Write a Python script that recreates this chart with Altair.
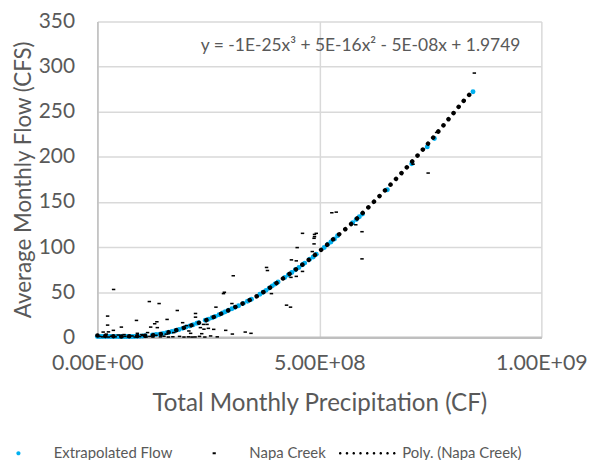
import altair as alt
import pandas as pd

# ---------------- data ----------------
# Napa Creek observations: Total Monthly Precipitation (CF), Average Monthly Flow (CFS)
napa_x = [0.05e8, 0.12e8, 0.18e8, 0.25e8, 0.32e8, 0.40e8, 0.47e8, 0.55e8, 0.62e8, 0.70e8,
          0.78e8, 0.85e8, 0.95e8, 1.02e8, 1.10e8, 1.18e8, 1.25e8, 1.32e8, 1.42e8, 1.50e8,
          1.60e8, 1.70e8, 1.85e8, 1.95e8, 2.05e8, 2.13e8, 2.20e8, 2.30e8, 2.42e8, 2.55e8,
          2.70e8, 0.13e8, 0.25e8, 0.36e8, 0.90e8, 1.13e8, 1.72e8, 0.60e8, 0.20e8, 1.00e8,
          1.55e8, 2.35e8, 2.06e8, 2.10e8, 0.365e8, 0.23e8, 0.23e8, 0.54e8, 0.88e8, 1.17e8,
          1.39e8, 1.29e8, 1.34e8, 1.20e8, 1.35e8, 1.57e8, 1.80e8, 1.92e8, 2.01e8, 2.21e8,
          2.21e8, 2.67e8, 2.84e8, 2.86e8, 3.06e8, 3.03e8, 2.47e8, 2.32e8, 2.40e8, 2.50e8,
          2.62e8, 2.89e8, 3.04e8, 3.33e8, 3.46e8, 3.81e8, 3.83e8, 3.92e8, 4.26e8, 4.35e8,
          4.37e8, 4.48e8, 4.50e8, 4.62e8, 4.89e8, 4.93e8, 4.88e8, 4.88e8, 4.89e8, 4.36e8,
          4.48e8, 4.62e8, 5.28e8, 5.38e8, 4.84e8, 5.82e8, 5.96e8, 5.96e8, 7.11e8, 7.45e8,
          7.64e8, 8.49e8, 2.39e8]
napa_y = [1.0, 0.5, 2.0, 0.3, 1.2, 0.5, 2.5, 0.3, 1.0, 0.4,
          1.5, 0.3, 0.8, 2.0, 0.4, 1.0, 0.3, 2.2, 0.5, 1.2,
          0.3, 0.6, 1.0, 0.3, 0.5, 0.3, 0.4, 1.0, 0.3, 1.5,
          0.5, 5.8, 6.0, 7.7, 4.4, 5.2, 5.2, 3.0, 3.5, 3.0,
          3.5, 4.0, 7.0, 4.4, 53.0, 23.5, 13.5, 11.3, 18.7, 39.6,
          37.4, 15.0, 17.2, 11.3, 10.7, 19.8, 29.7, 16.2, 12.9, 26.4,
          22.3, 33.4, 48.4, 49.9, 68.2, 37.4, 14.3, 10.7, 9.0, 9.9,
          8.8, 7.7, 3.6, 5.8, 4.4, 77.4, 74.0, 48.4, 35.6, 33.4,
          85.8, 84.7, 99.4, 115.2, 114.0, 115.2, 103.5, 109.7, 111.5, 66.4,
          67.5, 73.0, 138.0, 138.7, 95.0, 124.7, 117.0, 86.9, 191.8, 182.0,
          227.0, 292.8, 14.3]

# Extrapolated Flow points (lie on the polynomial trendline)
ext_x = [0.00e8, 0.06e8, 0.12e8, 0.18e8, 0.24e8, 0.30e8, 0.36e8, 0.42e8, 0.48e8, 0.54e8,
         0.60e8, 0.66e8, 0.72e8, 0.78e8, 0.84e8, 0.90e8, 0.96e8, 1.02e8, 1.08e8,
         1.24e8, 1.32e8, 1.40e8, 1.48e8, 1.56e8, 1.61e8,
         1.68e8, 1.76e8, 1.84e8, 1.92e8, 2.00e8, 2.08e8, 2.16e8, 2.24e8, 2.28e8,
         2.43e8, 2.50e8, 2.58e8, 2.66e8, 2.74e8, 2.82e8, 2.88e8,
         2.95e8, 3.03e8, 3.10e8, 3.18e8, 3.29e8, 3.38e8, 3.47e8,
         3.66e8, 3.73e8, 3.80e8, 3.87e8, 3.94e8, 4.00e8, 4.07e8,
         4.22e8, 4.30e8, 4.38e8, 4.46e8, 4.54e8, 4.62e8, 4.67e8,
         4.78e8, 4.86e8, 4.93e8, 5.11e8, 5.19e8, 5.26e8, 5.34e8, 5.41e8,
         5.75e8, 5.83e8, 5.90e8, 5.97e8, 6.53e8, 7.08e8, 7.43e8, 7.59e8, 8.46e8]
ext_y = [1.0, 1.0, 1.0, 1.0, 1.0, 1.0, 0.9, 0.9, 0.9, 0.9,
         0.9, 0.9, 1.0, 1.0, 1.0, 1.1, 1.2, 1.4, 1.6,
         2.5, 3.0, 3.5, 4.3, 5.1, 5.6,
         6.5, 7.5, 8.6, 9.9, 11.3, 12.6, 14.0, 15.5, 16.2,
         18.8, 20.0, 21.6, 23.2, 25.0, 27.0, 28.3,
         29.9, 31.7, 33.2, 35.0, 37.6, 40.0, 42.2,
         47.8, 50.0, 52.0, 54.5, 57.0, 59.0, 61.3,
         66.2, 69.0, 71.8, 74.8, 77.3, 80.3, 82.2,
         86.5, 89.0, 92.0, 99.5, 103.0, 105.5, 109.0, 112.5,
         127.0, 130.5, 133.5, 136.5, 163.6, 192.2, 211.0, 220.4, 272.0]

# Poly. (Napa Creek) trendline
trend_x = [0.0, 0.5e8, 1.0e8, 1.46e8, 1.76e8, 2.11e8, 2.45e8, 2.78e8, 3.10e8, 3.42e8,
           3.59e8, 4.03e8, 4.33e8, 4.76e8, 5.04e8, 5.17e8, 5.31e8, 5.58e8, 6.10e8, 6.35e8,
           6.85e8, 7.33e8, 7.80e8, 8.02e8, 8.25e8, 8.46e8]
trend_y = [2.0, 1.0, 1.5, 4.0, 7.7, 13.2, 19.0, 26.0, 33.4, 41.0,
           45.5, 60.0, 70.4, 85.8, 96.9, 102.4, 108.6, 119.6, 143.8, 156.3,
           182.0, 208.0, 235.2, 248.4, 262.0, 273.0]

series_names = ["Extrapolated Flow", "Napa Creek", "Poly. (Napa Creek)"]
series_colors = ["#00B0F0", "#000000", "#000000"]
x_ticks = [0, 5e8, 1e9]
x_tick_labels = ["0.00E+00", "5.00E+08", "1.00E+09"]
y_ticks = [0, 50, 100, 150, 200, 250, 300, 350]
equation = "y = -1E-25x\u00b3 + 5E-16x\u00b2 - 5E-08x + 1.9749"

# ---------------- tables ----------------
ext_df = pd.DataFrame({"x": ext_x, "y": ext_y})
napa_df = pd.DataFrame({"x": napa_x, "y": napa_y})
trend_df = pd.DataFrame({"x": trend_x, "y": trend_y})
legend_df = pd.DataFrame({"series": series_names})

# ---------------- styles ----------------
FONT = "Lato"
GREY = "#595959"

dash_path = "M-1,-0.45H1V0.45H-1Z"

# legend symbols, drawn in pixel units (size 4 -> 1 unit = 1px) inside a 57px wide slot
def circle(cx, r):
    return f"M{cx - r},0a{r},{r} 0 1,0 {2 * r},0a{r},{r} 0 1,0 {-2 * r},0Z"

leg_dot = "M0,0" + circle(28.5, 2.1)
leg_dash = "M0,0M27,-1H30.2V1H27Z"
leg_dots = "".join(circle(1.5 + i * 6.8, 1.3) for i in range(9))

label_expr = " : ".join(
    f"datum.value == {v} ? '{l}'" for v, l in zip(x_ticks[:-1], x_tick_labels[:-1])
) + f" : '{x_tick_labels[-1]}'"

x_axis = alt.Axis(values=x_ticks, labelExpr=label_expr, grid=True, ticks=False,
                  labelPadding=15, labelFontSize=21.5, labelFlush=False,
                  title="Total Monthly Precipitation (CF)", titleFontSize=24.3,
                  titleY=67, titleBaseline="middle",
                  domainColor="#BFBFBF", domainWidth=2.5)
y_axis = alt.Axis(values=y_ticks, grid=True, ticks=False, labelPadding=23,
                  labelFontSize=21,
                  title="Average Monthly Flow (CFS)", titleFontSize=22.5,
                  titleX=-85, titleBaseline="top",
                  domainColor="#BFBFBF", domainWidth=1.5)

x_scale = alt.Scale(domain=[0, 1e9], nice=False)
y_scale = alt.Scale(domain=[0, 350], nice=False)

ext_layer = alt.Chart(ext_df).mark_point(
    filled=True, opacity=1, strokeWidth=0, shape="circle", size=25, color="#00B0F0"
).encode(
    x=alt.X("x:Q", scale=x_scale, axis=x_axis),
    y=alt.Y("y:Q", scale=y_scale, axis=y_axis),
)

napa_layer = alt.Chart(napa_df).mark_point(
    filled=True, opacity=1, strokeWidth=0, shape=dash_path, size=12, color="#000000"
).encode(
    x=alt.X("x:Q", scale=x_scale, axis=x_axis),
    y=alt.Y("y:Q", scale=y_scale, axis=y_axis),
)

line_layer = alt.Chart(trend_df).mark_line(
    color="#000000", strokeWidth=4.5, strokeDash=[0.1, 7.9],
    strokeCap="round", interpolate="monotone"
).encode(
    x=alt.X("x:Q", scale=x_scale, axis=x_axis),
    y=alt.Y("y:Q", scale=y_scale, axis=y_axis),
)

eq_layer = alt.Chart(pd.DataFrame({"t": [equation]})).mark_text(
    font=FONT, fontSize=17.5, color=GREY, align="center", baseline="middle"
).encode(text="t:N", x=alt.value(265), y=alt.value(25))

leg = alt.Legend(orient="none", legendX=-115.5, legendY=427, direction="horizontal",
                 title=None, labelFont=FONT, labelFontSize=15, labelColor=GREY,
                 labelOffset=56.5, columnPadding=5, padding=0,
                 symbolStrokeWidth=0, symbolSize=4)

legend_layer = alt.Chart(legend_df).mark_point(
    filled=True, opacity=1, strokeWidth=0, size=4
).encode(
    x=alt.value(-600), y=alt.value(-600),
    color=alt.Color("series:N", scale=alt.Scale(domain=series_names, range=series_colors), legend=leg),
    shape=alt.Shape("series:N", scale=alt.Scale(domain=series_names, range=[leg_dot, leg_dash, leg_dots]), legend=leg),
)

chart = alt.layer(ext_layer, napa_layer, line_layer, eq_layer, legend_layer).properties(
    width=447, height=318,
    autosize=alt.AutoSizeParams(type="none"),
    padding={"left": 90, "top": 12, "right": 55, "bottom": 122},
).configure_view(stroke=None).configure_axis(
    labelFont=FONT, titleFont=FONT, labelColor=GREY, titleColor=GREY,
    titleFontWeight="normal", gridColor="#D9D9D9", gridWidth=1.5,
)

chart.save("out.html", embed_options={"renderer": "svg", "actions": False})
